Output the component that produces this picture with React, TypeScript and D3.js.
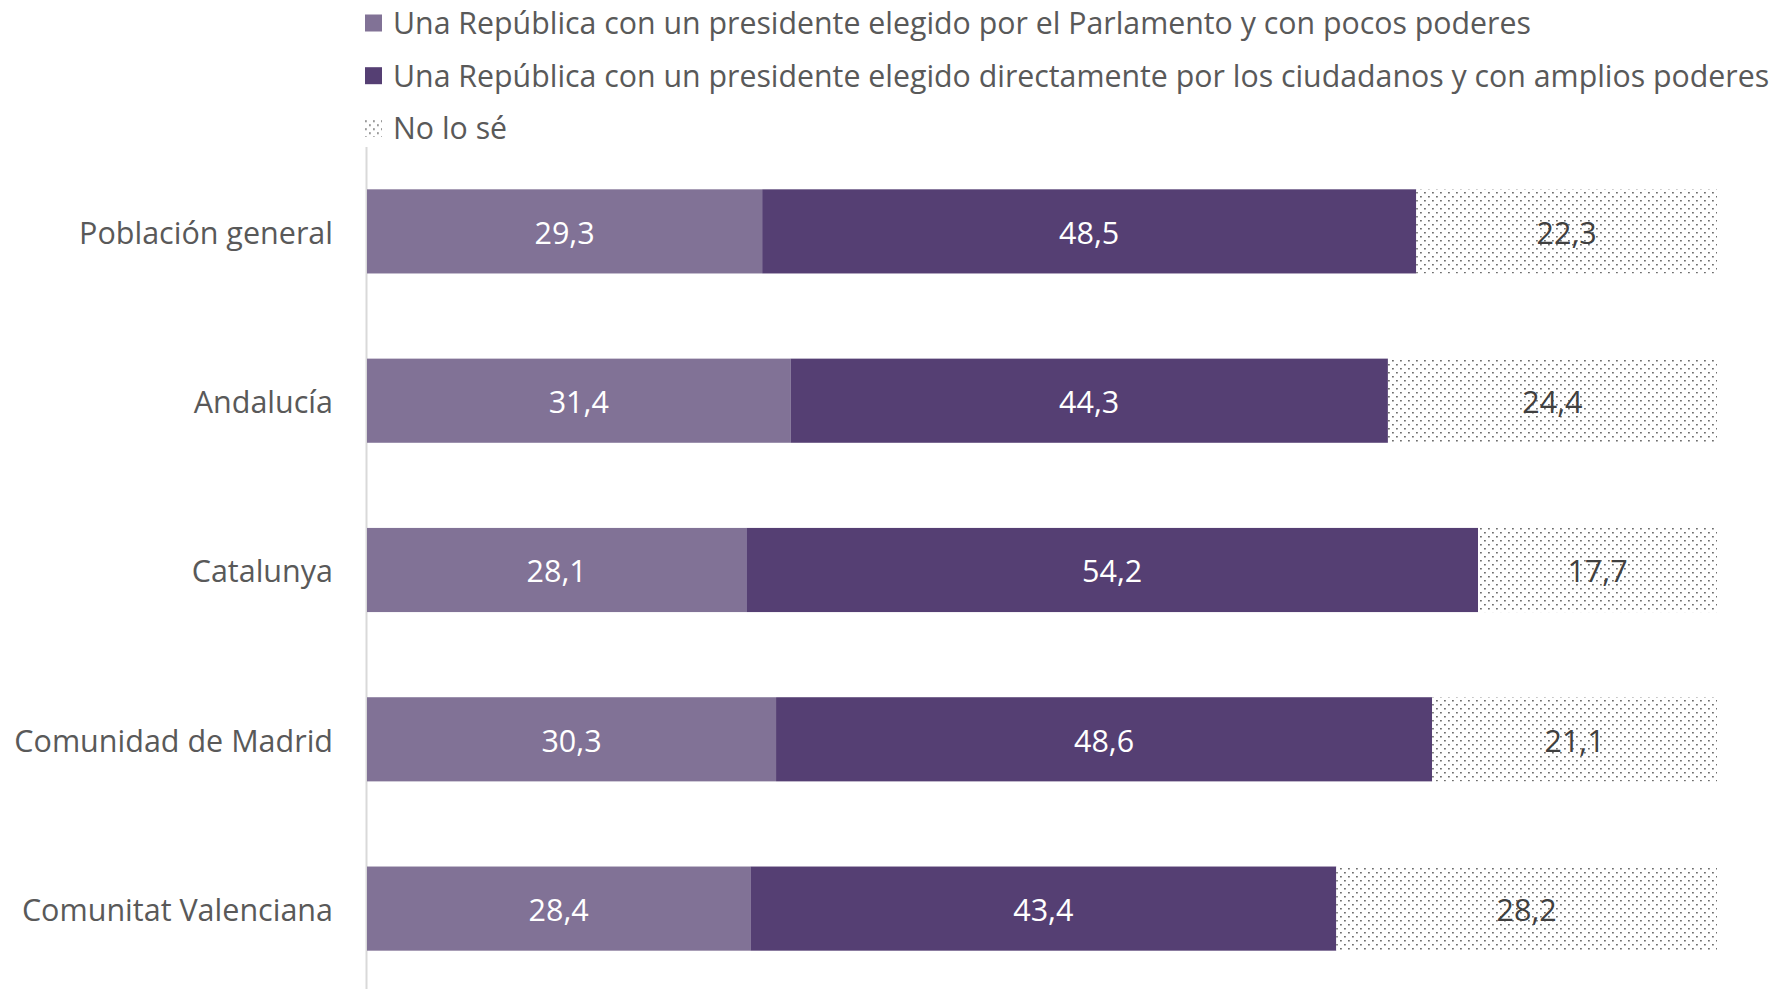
import * as d3 from "d3"

const categories = ["Población general", "Andalucía", "Catalunya", "Comunidad de Madrid", "Comunitat Valenciana"]
const seriesNames = [
  "Una República con un presidente elegido por el Parlamento y con pocos poderes",
  "Una República con un presidente elegido directamente por los ciudadanos y con amplios poderes",
  "No lo sé",
]
const parlamento = [29.3, 31.4, 28.1, 30.3, 28.4]
const directo = [48.5, 44.3, 54.2, 48.6, 43.4]
const noSe = [22.3, 24.4, 17.7, 21.1, 28.2]

const W = 1780
const H = 989
const FONT = "'Open Sans', 'Noto Sans', sans-serif"
const FS = 30.5
const colors = ["#817296", "#553f73", "url(#dots)"]
const labelColors = ["#ffffff", "#ffffff", "#404040"]

export default function App() {
  const rows = categories.map((c, i) => ({ cat: c, s0: parlamento[i], s1: directo[i], s2: noSe[i] }))
  // 100% apilado
  const stack = d3.stack<any>().keys(["s0", "s1", "s2"]).offset(d3.stackOffsetExpand)
  const layers = stack(rows)

  const x = d3.scaleLinear().domain([0, 1]).range([367, 1717])
  const y = d3.scaleBand().domain(categories).range([147, 993]).paddingInner(0.503).paddingOuter(0.25)

  const fmt = (v: number) => v.toFixed(1).replace(".", ",")
  const rawValues = [parlamento, directo, noSe]

  return (
    <svg width={W} height={H} style={{ position: "absolute", left: 0, top: 0, background: "#fff" }} fontFamily={FONT}>
      <defs>
        <pattern id="dots" width={8} height={8} patternUnits="userSpaceOnUse">
          <rect width={8} height={8} fill="#fff" />
          <rect x={0} y={0} width={1.8} height={1.5} fill="#6e6e6e" />
          <rect x={4} y={4} width={1.8} height={1.5} fill="#6e6e6e" />
        </pattern>
      </defs>

      {/* leyenda */}
      {seriesNames.map((name, i) => (
        <g key={name} transform={`translate(365,${23 + i * 52.7})`}>
          <rect x={0} y={-8.5} width={17} height={17} fill={colors[i]} />
          <text x={28} dy="0.36em" fontSize={30.3} fill="#595959">{name}</text>
        </g>
      ))}

      {/* eje vertical */}
      <line x1={366.5} x2={366.5} y1={147} y2={H} stroke="#d9d9d9" strokeWidth={2} />

      {/* barras */}
      {layers.map((layer, li) => (
        <g key={li}>
          {layer.map((d, i) => (
            <rect key={i} x={x(d[0])} y={y(categories[i])} width={x(d[1]) - x(d[0])} height={y.bandwidth()} fill={colors[li]} />
          ))}
          {layer.map((d, i) => (
            <text key={"t" + i} x={(x(d[0]) + x(d[1])) / 2} y={y(categories[i])! + y.bandwidth() / 2} dy="0.4em"
              textAnchor="middle" fontSize={FS} fill={labelColors[li]}>
              {fmt(rawValues[li][i])}
            </text>
          ))}
        </g>
      ))}

      {/* categorías */}
      {categories.map(c => (
        <text key={c} x={333} y={y(c)! + y.bandwidth() / 2} dy="0.4em" textAnchor="end" fontSize={FS} fill="#595959">{c}</text>
      ))}
    </svg>
  )
}
